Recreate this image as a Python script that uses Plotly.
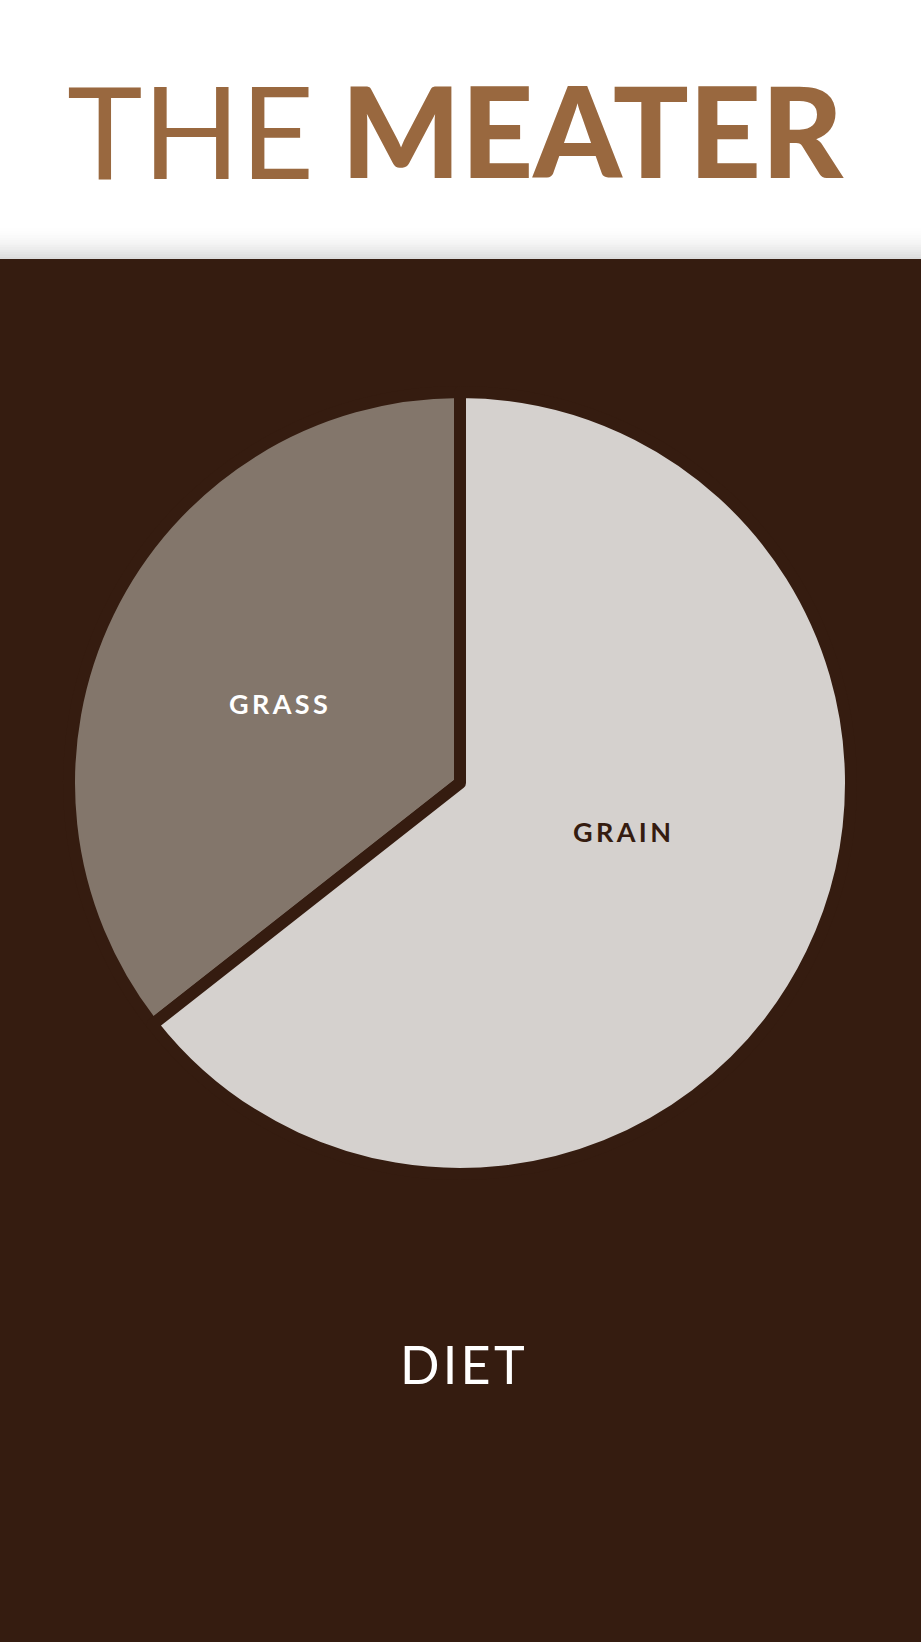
import plotly.graph_objects as go

categories = ["GRASS", "GRAIN"]
values = [35.6, 64.4]
slice_colors = ["#83766B", "#D5D1CE"]
text_colors = ["#FFFFFF", "#351C10"]
title_light = "THE"
title_bold = "MEATER"
subtitle = "DIET"

W, H = 921, 1642
BG = "#351C10"
BROWN = "#99683F"

cx, cy, R = 460, 783, 391  # pixel center / radius (from top)
label_pos = [(278, 703), (622, 832)]  # label centres (px from top-left)

def spaced(s, sep="\u2009"):
    return sep.join(s)

# start the first slice so that it ends at 12 o'clock (slice lies on the left)
rotation = -360 * values[0] / sum(values)

fig = go.Figure()
fig.add_trace(go.Pie(
    labels=categories,
    values=values,
    textinfo="none",
    sort=False,
    direction="clockwise",
    rotation=rotation,
    marker=dict(colors=slice_colors, line=dict(color=BG, width=12)),
    hoverinfo="label+percent",
    showlegend=False,
    domain=dict(x=[(cx - R) / W, (cx + R) / W],
                y=[(H - cy - R) / H, (H - cy + R) / H]),
))

shapes = [dict(type="rect", xref="paper", yref="paper", x0=0, x1=1,
               y0=(H - 259) / H, y1=1, fillcolor="white", line=dict(width=0), layer="below")]
# soft shadow above the dark band
n = 14
for i in range(n):
    y0 = 259 - (i + 1) * 2.4
    y1 = 259 - i * 2.4
    shapes.append(dict(type="rect", xref="paper", yref="paper", x0=0, x1=1,
                       y0=(H - y1) / H, y1=(H - y0) / H,
                       fillcolor="#B0B0B0", opacity=0.45 * (1 - i / n) ** 2,
                       line=dict(width=0), layer="below"))

annotations = [
    dict(text=title_light, x=190 / W, y=(H - 130) / H, xref="paper", yref="paper",
         showarrow=False, xanchor="center", yanchor="middle",
         font=dict(family="Lato", size=128, color=BROWN, weight=400)),
    dict(text=title_bold, x=592 / W, y=(H - 130) / H, xref="paper", yref="paper",
         showarrow=False, xanchor="center", yanchor="middle",
         font=dict(family="Lato", size=126, color=BROWN, weight=900)),
    dict(text="\u200a".join(subtitle), x=462 / W, y=(H - 1364) / H, xref="paper", yref="paper",
         showarrow=False, xanchor="center", yanchor="middle",
         font=dict(family="Lato", size=52, color="white", weight=400)),
]
for cat, col, (lx, ly) in zip(categories, text_colors, label_pos):
    annotations.append(dict(text=spaced(cat), x=lx / W, y=(H - ly) / H,
                            xref="paper", yref="paper", showarrow=False,
                            xanchor="center", yanchor="middle",
                            font=dict(family="Lato", size=27, color=col, weight=700)))

fig.update_layout(
    width=W, height=H,
    margin=dict(l=0, r=0, t=0, b=0),
    paper_bgcolor=BG, plot_bgcolor=BG,
    shapes=shapes, annotations=annotations,
)

fig.write_html("out.html", config={"displayModeBar": False},
               post_script="document.body.style.margin='0';document.body.style.overflow='hidden';")
